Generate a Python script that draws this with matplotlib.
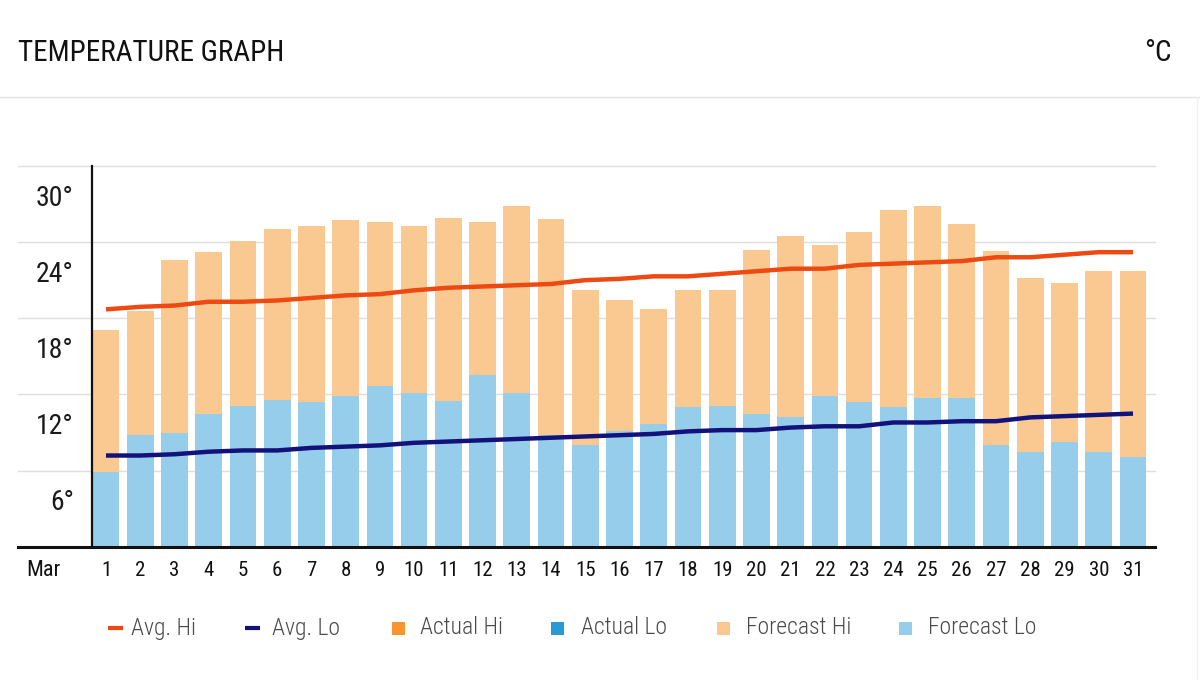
import matplotlib
matplotlib.use("Agg")
import matplotlib.pyplot as plt
from matplotlib.lines import Line2D
from matplotlib.patches import Rectangle
from matplotlib import font_manager as fm

# ---- font: pick a condensed face if one exists ----
cond = [f for f in fm.fontManager.ttflist
        if str(f.stretch) in ("condensed", "semi-condensed", "extra-condensed", "narrower")
        or "Condensed" in f.name or "Narrow" in f.name]
def pick(weight_ok):
    for pref in ("Roboto", "Noto Sans", "Open Sans", "Liberation", "DejaVu", ""):
        for f in cond:
            if f.name.startswith(pref) and weight_ok(f) and "Italic" not in f.fname and f.style == "normal":
                return f
    return None
reg = pick(lambda f: f.weight in (400, "normal", "regular", "book"))
light = pick(lambda f: f.weight in (300, "light"))
if reg is not None:
    FP = dict(fontproperties=fm.FontProperties(fname=reg.fname))
    FPL = dict(fontproperties=fm.FontProperties(fname=(light or reg).fname))
else:
    plt.rcParams['font.family'] = ['Roboto', 'DejaVu Sans']
    FP, FPL = {}, {}

month = "Mar"
days = list(range(1, 32))
forecast_hi = [19.4, 20.9, 24.9, 25.5, 26.4, 27.3, 27.6, 28.0, 27.9, 27.6,
               28.2, 27.9, 29.1, 28.1, 22.5, 21.7, 21.0, 22.5, 22.5, 25.7,
               26.8, 26.1, 27.1, 28.8, 29.1, 27.7, 25.6, 23.5, 23.1, 24.0, 24.0]
forecast_lo = [8.2, 11.1, 11.3, 12.8, 13.4, 13.9, 13.7, 14.2, 15.0, 14.4,
               13.8, 15.8, 14.4, 11.1, 10.3, 11.4, 12.0, 13.3, 13.4, 12.8,
               12.5, 14.2, 13.7, 13.3, 14.0, 14.0, 10.3, 9.8, 10.6, 9.8, 9.4]
avg_hi = [21.0, 21.2, 21.3, 21.6, 21.6, 21.7, 21.9, 22.1, 22.2, 22.5,
          22.7, 22.8, 22.9, 23.0, 23.3, 23.4, 23.6, 23.6, 23.8, 24.0,
          24.2, 24.2, 24.5, 24.6, 24.7, 24.8, 25.1, 25.1, 25.3, 25.5, 25.5]
avg_lo = [9.5, 9.5, 9.6, 9.8, 9.9, 9.9, 10.1, 10.2, 10.3, 10.5,
          10.6, 10.7, 10.8, 10.9, 11.0, 11.1, 11.2, 11.4, 11.5, 11.5,
          11.7, 11.8, 11.8, 12.1, 12.1, 12.2, 12.2, 12.5, 12.6, 12.7, 12.8]
y_ticks = [6, 12, 18, 24, 30]
y_tick_labels = ["6°", "12°", "18°", "24°", "30°"]
legend_labels = ["Avg. Hi", "Avg. Lo", "Actual Hi", "Actual Lo", "Forecast Hi", "Forecast Lo"]
legend_kinds = ["line", "line", "box", "box", "box", "box"]

C_AVG_HI = "#ec4a12"
C_AVG_LO = "#13127a"
C_ACT_HI = "#f7962f"
C_ACT_LO = "#2a9ad6"
C_FC_HI = "#fac991"
C_FC_LO = "#96cdeb"
legend_colors = [C_AVG_HI, C_AVG_LO, C_ACT_HI, C_ACT_LO, C_FC_HI, C_FC_LO]

W, H = 1200, 680
fig = plt.figure(figsize=(12, 6.8), dpi=100)
fig.patch.set_facecolor("white")

L, R, T, B = 92, 1155, 166, 546.7
ax = fig.add_axes([L / W, 1 - B / H, (R - L) / W, (B - T) / H])

y0 = 6 - (B - 500) / 12.708
y1 = 30 + (195 - T) / 12.708
ax.set_ylim(y0, y1)
ax.set_xlim(0.591, 31.643)

ax.bar(days, forecast_hi, width=0.78, bottom=0, color=C_FC_HI, zorder=2)
ax.bar(days, forecast_lo, width=0.78, color=C_FC_LO, zorder=3)
ax.plot(days, avg_hi, color=C_AVG_HI, lw=3.2, solid_capstyle='butt', zorder=5)
ax.plot(days, avg_lo, color=C_AVG_LO, lw=3.2, solid_capstyle='butt', zorder=5)

for k in range(1, 6):
    ax.axhline(y0 + 6 * k * (y1 - y0) / 30, xmin=-(L - 18) / (R - L), xmax=1,
               color="#dedede", lw=1, zorder=1, clip_on=False)
ax.axhline(y0, xmin=-(L - 18) / (R - L), xmax=1, color="#111111", lw=2.2,
           zorder=6, clip_on=False)

for s in ["top", "right", "bottom"]:
    ax.spines[s].set_visible(False)
ax.spines["left"].set_color("#111111")
ax.spines["left"].set_linewidth(1.6)
ax.spines["left"].set_zorder(7)

ax.set_yticks(y_ticks)
ax.set_yticklabels(y_tick_labels, color="#1a1a1a", **FP)
for t in ax.get_yticklabels():
    t.set_fontsize(20)
ax.tick_params(axis="y", length=0, pad=13)
ax.set_xticks(days)
ax.set_xticklabels([str(d) for d in days], color="#111111", **FP)
for t in ax.get_xticklabels():
    t.set_fontsize(15)
ax.tick_params(axis="x", length=0, pad=10)
fig.text(43 / W, 1 - 570 / H, month, fontsize=16, color="#111111",
         ha="center", va="center", **FP)

fig.text(18 / W, 1 - 53 / H, "TEMPERATURE GRAPH", fontsize=21, color="#111111",
         ha="left", va="center", **FP)
fig.text(1172 / W, 1 - 53 / H, "°C", fontsize=21, color="#111111",
         ha="right", va="center", **FP)
fig.add_artist(Line2D([0, 1], [1 - 97 / H, 1 - 97 / H], transform=fig.transFigure,
                      color="#e3e3e3", lw=1))
fig.add_artist(Line2D([1197 / W, 1197 / W], [0, 1 - 97 / H], transform=fig.transFigure,
                      color="#f0f0f0", lw=1))

# legend, laid out like the reference
mark_x = [108, 245, 392, 551, 717, 899]
text_x = [131, 272, 420, 581, 746, 928]
ly = 1 - 628 / H
for lab, kind, col, mx, tx in zip(legend_labels, legend_kinds, legend_colors, mark_x, text_x):
    if kind == "line":
        fig.add_artist(Line2D([mx / W, (mx + 15) / W], [ly, ly], transform=fig.transFigure,
                              color=col, lw=3, solid_capstyle='butt'))
    else:
        fig.add_artist(Rectangle((mx / W, ly - 6.5 / H), 13 / W, 13 / H,
                                 transform=fig.transFigure, facecolor=col, edgecolor="none"))
    fig.text(tx / W, ly, lab, fontsize=17, color="#4a4a4a", ha="left", va="center", **FPL)

fig.savefig("out.png", dpi=100, facecolor="white")
